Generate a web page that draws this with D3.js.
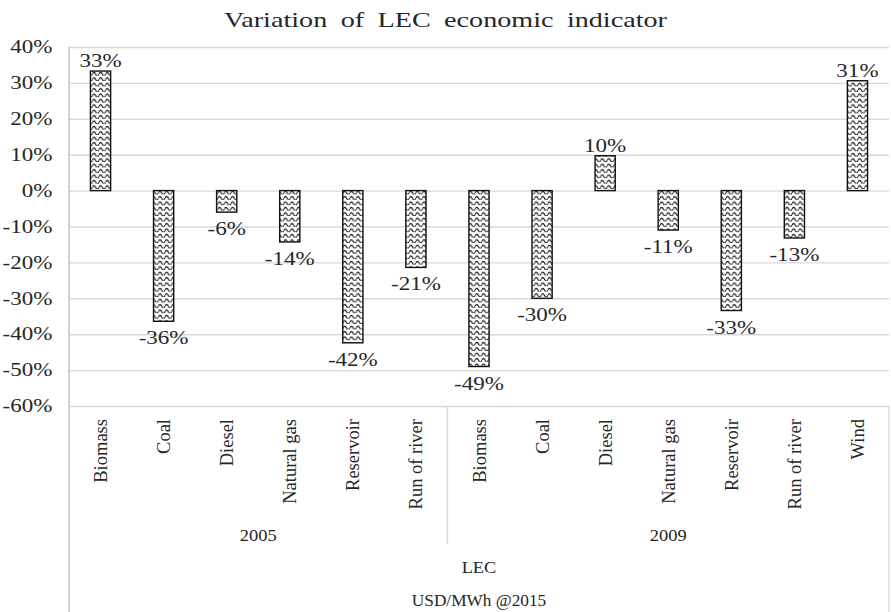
<!DOCTYPE html>
<html>
<head>
<meta charset="utf-8">
<script src="https://cdn.jsdelivr.net/npm/d3@7"></script>
<style>
  body { margin: 0; background: #fff; }
  text { font-family: "Liberation Serif", "Times New Roman", serif; fill: #262626; }
</style>
</head>
<body>
<svg id="chart" width="891" height="612"></svg>
<script>
const title = "Variation of LEC economic indicator";
const years = ["2005", "2009"];
const categories2005 = ["Biomass", "Coal", "Diesel", "Natural gas", "Reservoir", "Run of river"];
const values2005 = [0.333, -0.364, -0.06, -0.143, -0.424, -0.214];
const categories2009 = ["Biomass", "Coal", "Diesel", "Natural gas", "Reservoir", "Run of river", "Wind"];
const values2009 = [-0.49, -0.3, 0.097, -0.11, -0.334, -0.132, 0.306];
const yTicks = [0.4, 0.3, 0.2, 0.1, 0, -0.1, -0.2, -0.3, -0.4, -0.5, -0.6];
const axisTitle = "LEC";
const unitTitle = "USD/MWh @2015";

const data = [
  ...categories2005.map((c, i) => ({ year: years[0], cat: c, value: values2005[i] })),
  ...categories2009.map((c, i) => ({ year: years[1], cat: c, value: values2009[i] })),
].map((d) => ({ ...d, key: d.year + "|" + d.cat }));

const width = 891;
const height = 612;
const margin = { top: 47, right: 2, bottom: 206, left: 69 };
const sx = 1.28; // the reference text is drawn a bit wide

const pct = d3
  .formatLocale({ decimal: ".", thousands: ",", grouping: [3], currency: ["$", ""], minus: "-" })
  .format(".0%");

const svg = d3.select("#chart");

const x = d3
  .scaleBand()
  .domain(data.map((d) => d.key))
  .range([margin.left, width - margin.right])
  .paddingInner(0.68)
  .paddingOuter(0.34);

const step = x.step();

const y = d3
  .scaleLinear()
  .domain([-0.6, 0.4])
  .range([height - margin.bottom, margin.top]);

// wave pattern fill
const defs = svg.append("defs");
const pat = defs
  .append("pattern")
  .attr("id", "wave")
  .attr("patternUnits", "userSpaceOnUse")
  .attr("width", 6.6)
  .attr("height", 5.4);
pat.append("rect").attr("width", 6.6).attr("height", 5.4).attr("fill", "#fff");
pat
  .append("path")
  .attr("d", "M0,3.8 Q1.65,0.4 3.3,3.8 T6.6,3.8")
  .attr("fill", "none")
  .attr("stroke", "#111")
  .attr("stroke-width", 1.1);

// title
svg
  .append("text")
  .attr("transform", `translate(${width / 2},27) scale(${sx},1)`)
  .attr("text-anchor", "middle")
  .style("font-size", "22px")
  .style("word-spacing", "5px")
  .text(title);

// gridlines + y labels
const yAxis = (g) =>
  g
    .attr("transform", `translate(${margin.left},0)`)
    .call(
      d3
        .axisLeft(y)
        .tickValues(yTicks)
        .tickFormat(pct)
        .tickSize(-(width - margin.left - margin.right))
        .tickPadding(13)
    )
    .call((g) => g.select(".domain").remove())
    .call((g) => g.selectAll(".tick line").attr("stroke", "#d9d9d9").attr("stroke-width", 1.4))
    .call((g) =>
      g
        .selectAll(".tick text")
        .attr("transform", `scale(${sx},1)`)
        .style("font-size", "18px")
        .style("font-family", '"Liberation Serif", serif')
        .attr("fill", "#262626")
    );

svg.append("g").call(yAxis);

// category box lines
const lineColor = "#d9d9d9";
svg
  .append("line")
  .attr("x1", margin.left)
  .attr("x2", margin.left)
  .attr("y1", margin.top)
  .attr("y2", height)
  .attr("stroke", "#bfbfbf")
  .attr("stroke-width", 1.4);
svg
  .append("line")
  .attr("x1", width - margin.right)
  .attr("x2", width - margin.right)
  .attr("y1", y(-0.6))
  .attr("y2", height)
  .attr("stroke", lineColor)
  .attr("stroke-width", 1.4);

const groupStart = x(data[categories2005.length].key) - (step - x.bandwidth()) / 2;
svg
  .append("line")
  .attr("x1", groupStart)
  .attr("x2", groupStart)
  .attr("y1", y(-0.6))
  .attr("y2", y(-0.6) + 138)
  .attr("stroke", lineColor)
  .attr("stroke-width", 1.4);

// bars
svg
  .append("g")
  .selectAll("rect")
  .data(data)
  .join("rect")
  .attr("x", (d) => x(d.key))
  .attr("y", (d) => y(Math.max(0, d.value)))
  .attr("width", x.bandwidth())
  .attr("height", (d) => Math.abs(y(d.value) - y(0)))
  .attr("fill", "url(#wave)")
  .attr("stroke", "#111")
  .attr("stroke-width", 1.4);

// data labels
svg
  .append("g")
  .selectAll("text")
  .data(data)
  .join("text")
  .attr("transform", (d) => {
    const cx = x(d.key) + x.bandwidth() / 2;
    const ty = d.value >= 0 ? y(d.value) - 4 : y(d.value) + 23;
    return `translate(${cx},${ty}) scale(${sx},1)`;
  })
  .attr("text-anchor", "middle")
  .style("font-size", "18px")
  .text((d) => pct(d.value));

// category labels (vertical)
svg
  .append("g")
  .selectAll("text")
  .data(data)
  .join("text")
  .attr("transform", (d) => `translate(${x(d.key) + x.bandwidth() / 2 + 6.5},${y(-0.6) + 13}) rotate(-90)`)
  .attr("text-anchor", "end")
  .style("font-size", "18.5px")
  .text((d) => d.cat);

// year labels
const groupBounds = [
  [margin.left, groupStart],
  [groupStart, width - margin.right],
];
svg
  .append("g")
  .selectAll("text")
  .data(years)
  .join("text")
  .attr("transform", (d, i) => `translate(${(groupBounds[i][0] + groupBounds[i][1]) / 2},541) scale(1.15,1)`)
  .attr("text-anchor", "middle")
  .style("font-size", "16px")
  .text((d) => d);

svg
  .append("text")
  .attr("transform", `translate(${(margin.left + width - margin.right) / 2},573) scale(1.15,1)`)
  .attr("text-anchor", "middle")
  .style("font-size", "16px")
  .text(axisTitle);

svg
  .append("text")
  .attr("transform", `translate(${(margin.left + width - margin.right) / 2},606) scale(1.08,1)`)
  .attr("text-anchor", "middle")
  .style("font-size", "16px")
  .text(unitTitle);
</script>
</body>
</html>
